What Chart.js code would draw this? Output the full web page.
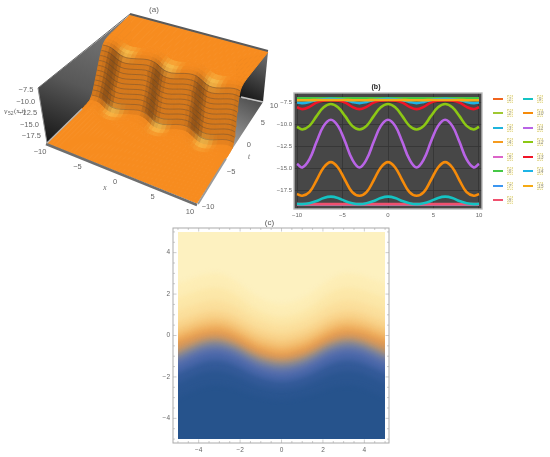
<!DOCTYPE html>
<html>
<head>
<meta charset="utf-8">
<title>Solution plots</title>
<script src="https://cdn.jsdelivr.net/npm/chart.js@4"></script>
<style>
    html, body { margin: 0; padding: 0; background: #fff; }
    body { position: relative; width: 550px; height: 457px; overflow: hidden; font-family: "Liberation Sans", sans-serif; }
    .panel { position: absolute; filter: blur(0.4px); }
    .key-line { position: absolute; width: 10px; height: 2px; }
    .key-box { position: absolute; width: 6px; height: 8px; background: #fdf8dc; border: 1px dotted #e4dca0; box-sizing: border-box;
               font-size: 5px; line-height: 7px; text-align: center; color: #999; font-style: italic; }
</style>
</head>
<body>
<div class="panel" style="left:0;top:0;width:285px;height:225px;filter:blur(0.6px)"><canvas id="surface-chart"></canvas></div>
<div class="panel" style="left:270px;top:80px;width:236px;height:145px"><canvas id="lines-chart"></canvas></div>
<div class="panel" style="left:150px;top:217px;width:262px;height:240px"><canvas id="density-chart"></canvas></div>
<div id="line-key"></div>
<script>
// panel (b): curves
const curveX = [-10, -9.42, -8.64, -7.85, -7.07, -6.28, -5.5, -4.71, -3.93, -3.14, -2.36, -1.57, -0.79, 0, 0.79, 1.57, 2.36, 3.14, 3.93, 4.71, 5.5, 6.28, 7.07, 7.85, 8.64, 9.42, 10];
const curve1 = [-19.08, -19.08, -19.08, -19.08, -19.08, -19.08, -19.08, -19.08, -19.08, -19.08, -19.08, -19.08, -19.08, -19.08, -19.08, -19.08, -19.08, -19.08, -19.08, -19.08, -19.08, -19.08, -19.08, -19.08, -19.08, -19.08, -19.08];
const curve2 = [-19.08, -19.08, -19.08, -19.08, -19.08, -19.08, -19.08, -19.08, -19.08, -19.08, -19.08, -19.08, -19.08, -19.08, -19.08, -19.08, -19.08, -19.08, -19.08, -19.08, -19.08, -19.08, -19.08, -19.08, -19.08, -19.08, -19.08];
const curve3 = [-19.07, -19.07, -19.07, -19.07, -19.07, -19.07, -19.07, -19.07, -19.07, -19.07, -19.07, -19.07, -19.07, -19.07, -19.07, -19.07, -19.07, -19.07, -19.07, -19.07, -19.07, -19.07, -19.07, -19.07, -19.07, -19.07, -19.07];
const curve4 = [-19.07, -19.07, -19.07, -19.07, -19.07, -19.07, -19.07, -19.07, -19.07, -19.07, -19.07, -19.07, -19.07, -19.07, -19.07, -19.07, -19.07, -19.07, -19.07, -19.07, -19.07, -19.07, -19.07, -19.07, -19.07, -19.07, -19.07];
const curve5 = [-19.06, -19.06, -19.06, -19.06, -19.06, -19.06, -19.06, -19.06, -19.06, -19.06, -19.06, -19.06, -19.06, -19.06, -19.06, -19.06, -19.06, -19.06, -19.06, -19.06, -19.06, -19.06, -19.06, -19.06, -19.06, -19.06, -19.06];
const curve6 = [-7.08, -7.08, -7.08, -7.08, -7.08, -7.08, -7.08, -7.08, -7.08, -7.08, -7.08, -7.08, -7.08, -7.08, -7.08, -7.08, -7.08, -7.08, -7.08, -7.08, -7.08, -7.08, -7.08, -7.08, -7.08, -7.08, -7.08];
const curve7 = [-19.06, -19.06, -19.06, -19.06, -19.06, -19.06, -19.06, -19.06, -19.06, -19.06, -19.06, -19.06, -19.06, -19.06, -19.06, -19.06, -19.06, -19.06, -19.06, -19.06, -19.06, -19.06, -19.06, -19.06, -19.06, -19.06, -19.06];
const curve8 = [-19.05, -19.05, -19.05, -19.05, -19.05, -19.05, -19.05, -19.05, -19.05, -19.05, -19.05, -19.05, -19.05, -19.05, -19.05, -19.05, -19.05, -19.05, -19.05, -19.05, -19.05, -19.05, -19.05, -19.05, -19.05, -19.05, -19.05];
const curve9 = [-19.0, -19.05, -18.95, -18.7, -18.35, -18.2, -18.35, -18.7, -18.95, -19.05, -18.95, -18.7, -18.35, -18.2, -18.35, -18.7, -18.95, -19.05, -18.95, -18.7, -18.35, -18.2, -18.35, -18.7, -18.95, -19.05, -19.0];
const curve10 = [-17.9, -18.1, -17.7, -16.35, -14.9, -14.3, -14.9, -16.35, -17.7, -18.1, -17.7, -16.35, -14.9, -14.3, -14.9, -16.35, -17.7, -18.1, -17.7, -16.35, -14.9, -14.3, -14.9, -16.35, -17.7, -18.1, -17.9];
const curve11 = [-14.5, -14.9, -14.0, -12.0, -10.2, -9.5, -10.2, -12.0, -14.0, -14.9, -14.0, -12.0, -10.2, -9.5, -10.2, -12.0, -14.0, -14.9, -14.0, -12.0, -10.2, -9.5, -10.2, -12.0, -14.0, -14.9, -14.5];
const curve12 = [-10.3, -10.6, -10.2, -9.1, -8.1, -7.73, -8.1, -9.1, -10.2, -10.6, -10.2, -9.1, -8.1, -7.73, -8.1, -9.1, -10.2, -10.6, -10.2, -9.1, -8.1, -7.73, -8.1, -9.1, -10.2, -10.6, -10.3];
const curve13 = [-8.1, -8.3, -8.05, -7.55, -7.35, -7.3, -7.35, -7.55, -8.05, -8.3, -8.05, -7.55, -7.35, -7.3, -7.35, -7.55, -8.05, -8.3, -8.05, -7.55, -7.35, -7.3, -7.35, -7.55, -8.05, -8.3, -8.1];
const curve14 = [-7.55, -7.62, -7.5, -7.28, -7.18, -7.15, -7.18, -7.28, -7.5, -7.62, -7.5, -7.28, -7.18, -7.15, -7.18, -7.28, -7.5, -7.62, -7.5, -7.28, -7.18, -7.15, -7.18, -7.28, -7.5, -7.62, -7.55];
const curve15 = [-7.3, -7.3, -7.3, -7.28, -7.28, -7.28, -7.28, -7.28, -7.3, -7.3, -7.3, -7.28, -7.28, -7.28, -7.28, -7.28, -7.3, -7.3, -7.3, -7.28, -7.28, -7.28, -7.28, -7.28, -7.3, -7.3, -7.3];
const curveNames = ['1', '2', '3', '4', '5', '6', '7', '8', '9', '10', '11', '12', '13', '14', '15'];
const curveTicksX = [-10, -5, 0, 5, 10];
const curveTicksY = [-17.5, -15, -12.5, -10, -7.5];

// panel (c): contour heights at each x, top level first
const contourX = [-5.6, -5, -4.4, -3.8, -3.14, -2.5, -1.9, -1.25, -0.6, 0, 0.6, 1.25, 1.9, 2.5, 3.14, 3.8, 4.4, 5, 5.6];
const contourTop = [5.6, 5.6, 5.6, 5.6, 5.6, 5.6, 5.6, 5.6, 5.6, 5.6, 5.6, 5.6, 5.6, 5.6, 5.6, 5.6, 5.6, 5.6, 5.6];
const contour1 = [2.3, 2.5, 2.72, 2.92, 3.0, 2.8, 2.4, 1.92, 1.62, 1.5, 1.62, 1.92, 2.4, 2.8, 3.0, 2.92, 2.72, 2.5, 2.3];
const contour2 = [1.6, 1.8, 2.03, 2.22, 2.3, 2.12, 1.74, 1.29, 1.01, 0.9, 1.01, 1.29, 1.74, 2.12, 2.3, 2.22, 2.03, 1.8, 1.6];
const contour3 = [1.0, 1.2, 1.42, 1.62, 1.7, 1.54, 1.22, 0.84, 0.6, 0.5, 0.6, 0.84, 1.22, 1.54, 1.7, 1.62, 1.42, 1.2, 1.0];
const contour4 = [0.5, 0.7, 0.92, 1.12, 1.2, 1.06, 0.76, 0.41, 0.19, 0.1, 0.19, 0.41, 0.76, 1.06, 1.2, 1.12, 0.92, 0.7, 0.5];
const contour5 = [0.15, 0.35, 0.57, 0.77, 0.85, 0.71, 0.41, 0.06, -0.16, -0.25, -0.16, 0.06, 0.41, 0.71, 0.85, 0.77, 0.57, 0.35, 0.15];
const contour6 = [-0.15, 0.05, 0.28, 0.47, 0.55, 0.41, 0.11, -0.24, -0.46, -0.55, -0.46, -0.24, 0.11, 0.41, 0.55, 0.47, 0.28, 0.05, -0.15];
const contour7 = [-0.4, -0.2, 0.03, 0.22, 0.3, 0.16, -0.14, -0.49, -0.71, -0.8, -0.71, -0.49, -0.14, 0.16, 0.3, 0.22, 0.03, -0.2, -0.4];
const contour8 = [-0.6, -0.4, -0.18, 0.02, 0.1, -0.04, -0.34, -0.69, -0.91, -1.0, -0.91, -0.69, -0.34, -0.04, 0.1, 0.02, -0.18, -0.4, -0.6];
const contour9 = [-0.85, -0.65, -0.4, -0.18, -0.1, -0.24, -0.52, -0.86, -1.07, -1.15, -1.07, -0.86, -0.52, -0.24, -0.1, -0.18, -0.4, -0.65, -0.85];
const contour10 = [-1.05, -0.85, -0.58, -0.34, -0.25, -0.39, -0.67, -1.01, -1.22, -1.3, -1.22, -1.01, -0.67, -0.39, -0.25, -0.34, -0.58, -0.85, -1.05];
const contour11 = [-1.2, -1.0, -0.73, -0.49, -0.4, -0.54, -0.82, -1.16, -1.37, -1.45, -1.37, -1.16, -0.82, -0.54, -0.4, -0.49, -0.73, -1.0, -1.2];
const contour12 = [-1.4, -1.2, -0.93, -0.69, -0.6, -0.74, -1.02, -1.36, -1.57, -1.65, -1.57, -1.36, -1.02, -0.74, -0.6, -0.69, -0.93, -1.2, -1.4];
const contour13 = [-1.65, -1.45, -1.18, -0.94, -0.85, -0.99, -1.27, -1.61, -1.82, -1.9, -1.82, -1.61, -1.27, -0.99, -0.85, -0.94, -1.18, -1.45, -1.65];
const contour14 = [-2.0, -1.8, -1.53, -1.29, -1.2, -1.33, -1.6, -1.92, -2.12, -2.2, -2.12, -1.92, -1.6, -1.33, -1.2, -1.29, -1.53, -1.8, -2.0];
const contour15 = [-2.5, -2.3, -2.03, -1.79, -1.7, -1.82, -2.06, -2.35, -2.53, -2.6, -2.53, -2.35, -2.06, -1.82, -1.7, -1.79, -2.03, -2.3, -2.5];
const contour16 = [-3.2, -3.0, -2.73, -2.49, -2.4, -2.49, -2.68, -2.9, -3.04, -3.1, -3.04, -2.9, -2.68, -2.49, -2.4, -2.49, -2.73, -3.0, -3.2];
const densityTicks = [-4, -2, 0, 2, 4];

// panel (a): where the wall sits in t for each x, and its cross section
const surfaceX = [-10, -9.5, -9, -8.5, -8, -7.5, -7, -6.5, -6, -5.5, -5, -4.5, -4, -3.5, -3, -2.5, -2, -1.5, -1, -0.5, 0, 0.5, 1, 1.5, 2, 2.5, 3, 3.5, 4, 4.5, 5, 5.5, 6, 6.5, 7, 7.5, 8, 8.5, 9, 9.5, 10];
const wallCentre = [-0.3, -0.2, -0.24, -0.42, -0.68, -0.95, -1.17, -1.29, -1.28, -1.13, -0.9, -0.65, -0.4, -0.22, -0.2, -0.3, -0.5, -0.78, -1.05, -1.25, -1.3, -1.25, -1.05, -0.78, -0.5, -0.3, -0.2, -0.22, -0.4, -0.65, -0.9, -1.13, -1.28, -1.29, -1.17, -0.95, -0.68, -0.42, -0.24, -0.2, -0.3];
const wallOffset = [-30, -3.2, -2.6, -2.0, -1.4, -1.0, -0.78, -0.6, -0.45, -0.3, -0.15, 0, 0.17, 0.35, 0.55, 0.85, 1.2, 1.7, 2.6, 3.4, 30];
const wallHeight = [-19.05, -19.05, -19.03, -18.95, -18.8, -18, -17, -16, -15, -14, -13, -12, -11, -10, -9, -8, -7.5, -7.2, -7.05, -7.05, -7.05];
const meshHeights = [-18, -17, -16, -15, -14, -13, -12, -11, -10, -9, -8];
const surfaceTicksX = [-10, -5, 0, 5, 10];
const surfaceTicksT = [-10, -5, 0, 5, 10];
const surfaceTicksV = [-17.5, -15, -12.5, -10, -7.5];

// styles
const curveColors = ['#f0641e', '#a0c832', '#1eb4dc', '#f59b1e', '#dc64c8', '#46c846', '#3c96f0', '#f0506e', '#14c3c3', '#f68b0a', '#b964e6', '#8cc814', '#f01428', '#1eb4e6', '#f5aa14'];
const contourColors = ['#fdf1c0', '#fdedb5', '#fce7a8', '#fbdf9c', '#f9d48c', '#f5c578', '#f0b262', '#e8a052', '#d8985a', '#b89470', '#968c88', '#7580a0', '#5a70ac', '#4866a8', '#335a98', '#2a5590', '#26538c'];
const cellGlow = [0, 0, 0.3, 0.8, 1, 0.4, 0, 0, 0, 0, 0, 0, 0, 0, 0.4, 0.9, 1, 0.5, 0, 0];
const textColor = '#666';
const minus = '\u2212';

function signed(v, digits) {
    const s = Math.abs(v).toFixed(digits);
    return v < 0 ? minus + s : s;
}

function setTicks(list) {
    return function(scale) {
        scale.ticks = list.map(function(v) { return { value: v }; });
    };
}

function tickLabel(digits) {
    return function(value) { return signed(value, digits); };
}

function mix(a, b, f) {
    f = Math.max(0, Math.min(1, f));
    return a.map(function(c, i) { return c + (b[i] - c) * f; });
}

function rgb(c) {
    return 'rgb(' + c.map(Math.round).join(',') + ')';
}

Chart.defaults.animation = false;
Chart.defaults.responsive = false;
Chart.defaults.font.family = '"Liberation Sans", sans-serif';

function sizeCanvas(id, w, h) {
    const c = document.getElementById(id);
    c.width = w;
    c.height = h;
    c.style.width = w + 'px';
    c.style.height = h + 'px';
    return c;
}

// ---------- panel (b)
function showLineChart() {
    const all = [curve1, curve2, curve3, curve4, curve5, curve6, curve7, curve8, curve9, curve10, curve11, curve12, curve13, curve14, curve15];
    const datasets = all.map(function(values, i) {
        return {
            label: curveNames[i],
            data: values.map(function(v, k) { return { x: curveX[k], y: v }; }),
            showLine: true,
            borderColor: curveColors[i],
            backgroundColor: curveColors[i],
            borderWidth: 2.6,
            pointRadius: 0,
            tension: 0.4,
            order: 15 - i,
        };
    });
    new Chart(sizeCanvas('lines-chart', 236, 145), {
        type: 'scatter',
        data: { datasets: datasets },
        options: {
            layout: { padding: { right: 24 } },
            plugins: {
                legend: { display: false },
                tooltip: { enabled: false },
                title: { display: true, text: '(b)', color: '#222', font: { size: 7, weight: 'bold' }, padding: { top: 2.6, bottom: 2 } },
            },
            scales: {
                x: {
                    min: -10.33, max: 10.33,
                    afterBuildTicks: setTicks(curveTicksX),
                    afterFit: function(s) { s.height = 16; },
                    grid: { color: '#333', lineWidth: 0.8, drawTicks: false },
                    border: { display: false },
                    ticks: { color: textColor, font: { size: 6 }, padding: 3, maxRotation: 0, callback: tickLabel(0) },
                },
                y: {
                    min: -19.6, max: -6.48,
                    afterBuildTicks: setTicks(curveTicksY),
                    afterFit: function(s) { s.width = 24; },
                    grid: { color: '#333', lineWidth: 0.8, drawTicks: false },
                    border: { display: false },
                    ticks: { color: textColor, font: { size: 6 }, padding: 2, callback: tickLabel(1) },
                },
            },
        },
        plugins: [{
            id: 'darkPlot',
            beforeDraw: function(chart) {
                const a = chart.chartArea, c = chart.ctx;
                c.fillStyle = '#474747';
                c.fillRect(a.left, a.top, a.width, a.height);
            },
            afterDraw: function(chart) {
                const a = chart.chartArea, c = chart.ctx;
                c.strokeStyle = '#b9b9b9';
                c.lineWidth = 1.4;
                c.strokeRect(a.left, a.top, a.width, a.height);
            },
        }],
    });
    setLineKey();
}

function setLineKey() {
    const key = document.getElementById('line-key');
    for (var i = 0; i < curveNames.length; ++i) {
        const col = i < 8 ? 0 : 1;
        const row = i < 8 ? i : i - 8;
        const line = document.createElement('div');
        line.className = 'key-line';
        line.style.left = (493 + col * 30) + 'px';
        line.style.top = (97.5 + row * 14.5) + 'px';
        line.style.background = curveColors[i];
        const box = document.createElement('div');
        box.className = 'key-box';
        box.style.left = (507 + col * 30) + 'px';
        box.style.top = (94.5 + row * 14.5) + 'px';
        box.textContent = curveNames[i];
        key.appendChild(line);
        key.appendChild(box);
    }
}

// ---------- panel (c)
function showDensityChart() {
    const all = [contourTop, contour1, contour2, contour3, contour4, contour5, contour6, contour7, contour8, contour9, contour10, contour11, contour12, contour13, contour14, contour15, contour16];
    const datasets = all.map(function(values, i) {
        return {
            data: values.map(function(v, k) { return { x: contourX[k], y: v }; }),
            showLine: true,
            fill: { value: -5.6 },
            backgroundColor: contourColors[i],
            borderColor: contourColors[i],
            borderWidth: 0,
            pointRadius: 0,
            tension: 0.4,
        };
    }).reverse();
    new Chart(sizeCanvas('density-chart', 262, 240), {
        type: 'scatter',
        data: { datasets: datasets },
        options: {
            layout: { padding: { right: 23 } },
            plugins: {
                legend: { display: false },
                tooltip: { enabled: false },
                title: { display: true, text: '(c)', color: '#555', font: { size: 8, weight: 'normal' }, padding: { top: 1, bottom: 0.4 } },
            },
            scales: {
                x: {
                    min: -5.24, max: 5.19,
                    afterBuildTicks: setTicks(densityTicks),
                    afterFit: function(s) { s.height = 14; },
                    grid: { display: false, drawTicks: false },
                    border: { display: false },
                    ticks: { color: textColor, font: { size: 6.5 }, padding: 3, maxRotation: 0, callback: tickLabel(0) },
                },
                y: {
                    min: -5.19, max: 5.19,
                    afterBuildTicks: setTicks(densityTicks),
                    afterFit: function(s) { s.width = 23; },
                    grid: { display: false, drawTicks: false },
                    border: { display: false },
                    ticks: { color: textColor, font: { size: 6.5 }, padding: 3, callback: tickLabel(0) },
                },
            },
        },
        plugins: [{
            id: 'softBands',
            beforeDatasetsDraw: function(chart) {
                const c = chart.ctx, sx = chart.scales.x, sy = chart.scales.y;
                const left = sx.getPixelForValue(-5), right = sx.getPixelForValue(5);
                const top = sy.getPixelForValue(5), bottom = sy.getPixelForValue(-5);
                c.save();
                c.beginPath();
                c.rect(left, top, right - left, bottom - top);
                c.clip();
                c.filter = 'blur(2.5px)';
            },
            afterDatasetsDraw: function(chart) {
                chart.ctx.restore();
            },
        }, {
            id: 'frameTicks',
            afterDraw: function(chart) {
                const a = chart.chartArea, c = chart.ctx;
                c.strokeStyle = '#aaa';
                c.lineWidth = 1;
                c.strokeRect(a.left, a.top, a.width, a.height);
                c.lineWidth = 0.6;
                c.beginPath();
                for (var k = -10; k <= 10; ++k) {
                    const len = k % 4 === 0 ? 3.5 : 2;
                    const px = chart.scales.x.getPixelForValue(k / 2);
                    const py = chart.scales.y.getPixelForValue(k / 2);
                    c.moveTo(px, a.bottom); c.lineTo(px, a.bottom - len);
                    c.moveTo(px, a.top); c.lineTo(px, a.top + len);
                    c.moveTo(a.left, py); c.lineTo(a.left + len, py);
                    c.moveTo(a.right, py); c.lineTo(a.right - len, py);
                }
                c.stroke();
            },
        }],
    });
}

// ---------- panel (a)
const lowCorners = { fl: [47, 143], fr: [197, 203], bl: [127, 65], br: [263, 102] };
const highCorners = { fl: [55, 88], fr: [190, 150], bl: [130, 15], br: [268, 52] };

function bilerp(q, u, w) {
    const fx = q.fl[0] + (q.fr[0] - q.fl[0]) * u, fy = q.fl[1] + (q.fr[1] - q.fl[1]) * u;
    const bx = q.bl[0] + (q.br[0] - q.bl[0]) * u, by = q.bl[1] + (q.br[1] - q.bl[1]) * u;
    return [fx + (bx - fx) * w, fy + (by - fy) * w];
}

function project(x, t, v) {
    const u = (x + 10) / 20;
    const raw = (t + 10) / 20;
    const w = raw * 1.62 / (1 + 0.62 * raw);
    const h = (v + 19.05) / 12;
    const lo = bilerp(lowCorners, u, w), hi = bilerp(highCorners, u, w);
    return { x: lo[0] + (hi[0] - lo[0]) * h, y: lo[1] + (hi[1] - lo[1]) * h };
}

function rowT(j, i) {
    return Math.max(-10, Math.min(10, wallCentre[i] + wallOffset[j]));
}

function polygon(points, fillColor) {
    const solid = typeof fillColor === 'string';
    return {
        data: points.concat([points[0]]),
        showLine: true,
        fill: 'shape',
        backgroundColor: fillColor,
        borderColor: solid ? fillColor : 'rgba(0,0,0,0)',
        borderWidth: solid ? 1 : 0,
        pointRadius: 0,
        tension: 0,
    };
}

function polyline(points, color, width) {
    return { data: points, showLine: true, fill: false, borderColor: color, borderWidth: width, pointRadius: 0, tension: 0 };
}

function pt(a) { return { x: a[0], y: a[1] }; }

function showSurfaceChart() {
    const canvas = sizeCanvas('surface-chart', 285, 225);
    const ctx = canvas.getContext('2d');
    const list = [];
    const baseOrange = [247, 140, 31], hotYellow = [252, 200, 84], deepBrown = [74, 42, 16];

    // back walls and floor, behind the surface
    const leftWall = ctx.createLinearGradient(110, 25, 60, 150);
    leftWall.addColorStop(0, '#787878');
    leftWall.addColorStop(0.5, '#585858');
    leftWall.addColorStop(1, '#141414');
    list.push(polygon([pt([38, 88]), pt([130, 15]), pt([135, 70]), pt([47, 143])], leftWall));
    const rightWall = ctx.createLinearGradient(268, 55, 245, 100);
    rightWall.addColorStop(0, '#6e6e6e');
    rightWall.addColorStop(1, '#161616');
    list.push(polygon([pt([268, 52]), pt([263, 102]), pt([236, 97]), pt([236, 60])], rightWall));
    const floor = ctx.createLinearGradient(255, 100, 215, 175);
    floor.addColorStop(0, '#505050');
    floor.addColorStop(0.5, '#909090');
    floor.addColorStop(1, '#e4e4e4');
    list.push(polygon([pt([263, 102]), pt([236, 97]), pt([215, 160]), pt([197, 203])], floor));
    list.push(polyline([pt([241, 97]), pt([263, 102])], '#c8c8c8', 1.6));

    // surface cells, back to front
    for (var j = wallOffset.length - 2; j >= 0; --j) {
        const slope = (wallHeight[j + 1] - wallHeight[j]) / (wallOffset[j + 1] - wallOffset[j]);
        const steep = Math.min(1, slope / 4);
        for (var i = 0; i < surfaceX.length - 1; ++i) {
            const from = Math.max(0, i - 1), to = Math.min(surfaceX.length - 1, i + 2);
            const drift = (wallCentre[to] - wallCentre[from]) / (surfaceX[to] - surfaceX[from]);
            const side = Math.max(0, -drift / 0.55);
            const centre = (wallCentre[i] + wallCentre[i + 1]) / 2;
            const near = Math.max(0, (-0.6 - centre) / 0.7);
            const lit = mix(baseOrange, hotYellow, Math.pow(near, 1.5) * cellGlow[j] * 0.85);
            const color = mix(lit, deepBrown, steep * (0.2 + 0.42 * side));
            list.push(polygon([
                project(surfaceX[i], rowT(j, i), wallHeight[j]),
                project(surfaceX[i + 1], rowT(j, i + 1), wallHeight[j]),
                project(surfaceX[i + 1], rowT(j + 1, i + 1), wallHeight[j + 1]),
                project(surfaceX[i], rowT(j + 1, i), wallHeight[j + 1]),
            ], rgb(color)));
        }
    }

    // mesh lines on the wall
    for (var m = 0; m < meshHeights.length; ++m) {
        const row = wallHeight.indexOf(meshHeights[m]);
        list.push(polyline(surfaceX.map(function(x, i) {
            return project(x, rowT(row, i), meshHeights[m]);
        }), 'rgba(70,65,60,0.6)', 0.6));
    }

    // box edges
    list.push(polyline([pt([130, 14]), pt([268, 51])], '#5a5a5a', 2));
    list.push(polyline([pt([130, 14]), pt([38, 88])], '#6a6a6a', 1));
    list.push(polyline([pt([38, 88]), pt([47, 143])], '#8a8a8a', 1));
    list.push(polyline([pt([46, 144]), pt([197, 205])], '#6e6e6e', 2.6));
    list.push(polyline([project(-10, -10, -19.05), project(-10, rowT(1, 0), -19.05)], '#b4b4b4', 1.4));
    list.push(polyline([pt([198, 204]), project(10, rowT(1, 40), -19.05)], '#9a9a9a', 1.8));

    new Chart(canvas, {
        type: 'scatter',
        data: { datasets: list.reverse() },
        options: {
            layout: { padding: 0 },
            plugins: { legend: { display: false }, tooltip: { enabled: false } },
            scales: {
                x: { display: false, min: 0, max: 285 },
                y: { display: false, min: 0, max: 225, reverse: true },
            },
        },
        plugins: [{
            id: 'boxLabels',
            afterDraw: function(chart) {
                const c = chart.ctx;
                const sx = chart.scales.x, sy = chart.scales.y;
                function put(text, x, y, align, font) {
                    c.font = font || '7.5px "Liberation Sans", sans-serif';
                    c.textAlign = align || 'center';
                    c.textBaseline = 'middle';
                    c.fillStyle = textColor;
                    c.fillText(text, sx.getPixelForValue(x), sy.getPixelForValue(y));
                }
                surfaceTicksX.forEach(function(x) {
                    const p = project(x, -10, -19.05);
                    put(signed(x, 0), p.x - 7, p.y + 9);
                });
                surfaceTicksT.forEach(function(t) {
                    const p = project(10, t, -19.05);
                    put(signed(t, 0), p.x + 11, p.y + 4);
                });
                surfaceTicksV.forEach(function(v) {
                    const h = (v + 19.05) / 12;
                    put(signed(v, 1), 47 - 9 * h - 5, 143 - 55 * h, 'right');
                });
                put('x', 105, 188, 'center', 'italic 7.5px "Liberation Serif", serif');
                put('t', 249, 157, 'center', 'italic 7.5px "Liberation Serif", serif');
                put('(a)', 154, 10, 'center', '8px "Liberation Sans", sans-serif');
                put('v', 4, 112, 'left', 'italic 7.5px "Liberation Serif", serif');
                put('52', 8, 114, 'left', '5px "Liberation Sans", sans-serif');
                put('(x,t)', 14, 111, 'left', '7px "Liberation Serif", serif');
            },
        }],
    });
}

showSurfaceChart();
showLineChart();
showDensityChart();
</script>
</body>
</html>
